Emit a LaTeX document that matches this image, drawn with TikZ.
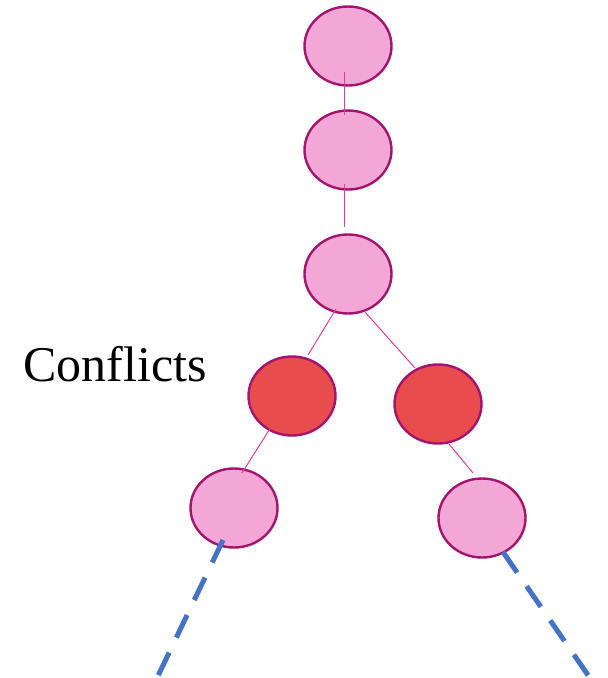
\documentclass[tikz,border=0pt]{standalone}
\usepackage{fontspec}
\setmainfont{Liberation Serif}
\usetikzlibrary{shapes.geometric,calc}

\definecolor{vertfill}{HTML}{F2A7D6}
\definecolor{vertline}{HTML}{A2146E}
\definecolor{clashfill}{HTML}{E84C4C}
\definecolor{edgepink}{HTML}{E33C9C}
\definecolor{trailblue}{HTML}{4472C4}

\begin{document}
\begin{tikzpicture}[x=1pt, y=-1pt]
    \tikzstyle{vert}  = [shape=ellipse, draw=vertline, fill=vertfill, line width=2.4pt,
                         minimum width=87pt, minimum height=79pt, inner sep=0pt]
    \tikzstyle{clash} = [vert, fill=clashfill]
    \tikzstyle{edge}  = [draw=edgepink, line width=1pt]
    \tikzstyle{trail} = [draw=trailblue, line width=5pt, dash pattern=on 25pt off 16.6pt]

    \useasboundingbox (0, 0) rectangle (608, 678);

    % the chain
    \node[vert]  (n1) at (348,  46) {};
    \node[vert]  (n2) at (348, 150) {};
    \node[vert]  (n3) at (348, 274) {};

    % the fork
    \node[clash] (c1) at (292, 396) {};
    \node[clash] (c2) at (438, 404) {};
    \node[vert]  (p1) at (234, 508) {};
    \node[vert]  (p2) at (482, 518) {};

    \node[anchor=base west, inner sep=0pt] (lbl) at (23, 381)
        {\fontsize{50}{60}\selectfont Conflicts};

    \draw[edge] ($(n1)+(-4, 26)$)  -- ($(n2)+(-4, -35)$);
    \draw[edge] ($(n2)+(-4, 34)$)  -- ($(n3)+(-4, -47)$);
    \draw[edge] ($(n3)+(-12, 35)$) -- ($(c1)+(16, -41)$);
    \draw[edge] ($(n3)+(17, 38)$)  -- ($(c2)+(-23, -36)$);
    \draw[edge] ($(c1)+(-21, 31)$) -- ($(p1)+(8, -35)$);
    \draw[edge] ($(c2)+(11, 40)$)  -- ($(p2)+(-9, -45)$);

    % branches carry on
    \coordinate (t1) at (157, 678);
    \coordinate (t2) at (590, 678);
    \draw[trail] ($(p1)+(-11, 32)$) -- (t1);
    \draw[trail] ($(p2)+(21, 34)$)  -- (t2);

\end{tikzpicture}
\end{document}
